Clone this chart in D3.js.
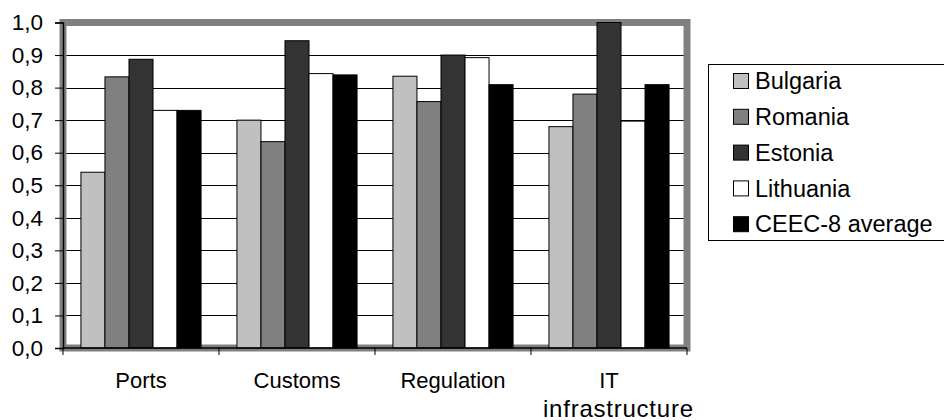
<!DOCTYPE html>
<html>
<head>
<meta charset="utf-8">
<script src="https://cdn.jsdelivr.net/npm/d3@7"></script>
<style>
  html, body { margin: 0; padding: 0; background: #fff; }
  svg { display: block; }
  text { font-family: "Liberation Sans", Arial, sans-serif; fill: #000; }
</style>
</head>
<body>
<svg id="chart" width="944" height="420"></svg>
<script>
// Trade facilitation indicators by area
const categories = ["Ports", "Customs", "Regulation", "IT infrastructure"];
const categoryLines = [["Ports"], ["Customs"], ["Regulation"], ["IT", "infrastructure"]];
const seriesNames = ["Bulgaria", "Romania", "Estonia", "Lithuania", "CEEC-8 average"];
const seriesColors = ["#c0c0c0", "#808080", "#333333", "#ffffff", "#000000"];

const bulgaria  = [0.54, 0.70, 0.835, 0.68];
const romania   = [0.833, 0.634, 0.757, 0.78];
const estonia   = [0.887, 0.944, 0.90, 1.0];
const lithuania = [0.73, 0.843, 0.892, 0.697];
const ceec8     = [0.73, 0.839, 0.809, 0.809];
const seriesValues = [bulgaria, romania, estonia, lithuania, ceec8];

const yTicks = [0, 0.1, 0.2, 0.3, 0.4, 0.5, 0.6, 0.7, 0.8, 0.9, 1.0];

const svg = d3.select("#chart");
const plot = { left: 63, right: 687, top: 22.5, bottom: 348 };

const x = d3.scaleBand().domain(categories).range([plot.left, plot.right])
  .paddingInner(0.23).paddingOuter(0.115);
const xs = d3.scaleBand().domain(seriesNames).range([0, x.bandwidth()]);
const y = d3.scaleLinear().domain([0, 1]).range([plot.bottom, plot.top]);
const fmt = v => d3.format(".1f")(v).replace(".", ",");

// horizontal gridlines
svg.append("g").selectAll("line").data(yTicks).join("line")
  .attr("x1", plot.left).attr("x2", plot.right)
  .attr("y1", d => Math.round(y(d)) + 0.5).attr("y2", d => Math.round(y(d)) + 0.5)
  .attr("stroke", "#000").attr("stroke-width", 1);

// plot area frame
svg.append("rect")
  .attr("x", plot.left).attr("y", plot.top)
  .attr("width", plot.right - plot.left).attr("height", plot.bottom - plot.top)
  .attr("fill", "none").attr("stroke", "#808080").attr("stroke-width", 7);

// bars
const groups = svg.append("g").selectAll("g").data(categories).join("g")
  .attr("transform", d => `translate(${x(d)},0)`);
groups.selectAll("rect")
  .data((c, i) => seriesNames.map((s, k) => ({ s, k, v: seriesValues[k][i] })))
  .join("rect")
  .attr("x", d => xs(d.s)).attr("width", xs.bandwidth())
  .attr("y", d => y(d.v)).attr("height", d => y(0) - y(d.v))
  .attr("fill", d => seriesColors[d.k])
  .attr("stroke", "#000").attr("stroke-width", 1);

// y axis
const yAxis = svg.append("g").attr("transform", `translate(${plot.left},0)`)
  .call(d3.axisLeft(y).tickValues(yTicks).tickFormat(fmt).tickSize(8).tickPadding(12));
yAxis.select(".domain").attr("stroke", "#000").attr("stroke-width", 1.5);
yAxis.selectAll("text").style("font-size", "22.5px")
  .style("font-family", "'Liberation Sans', Arial, sans-serif").attr("fill", "#000");

// x axis (ticks on category boundaries)
const bounds = d3.range(categories.length + 1).map(i => plot.left + i * x.step());
const xAxis = svg.append("g");
xAxis.append("line").attr("x1", plot.left).attr("x2", plot.right)
  .attr("y1", plot.bottom).attr("y2", plot.bottom)
  .attr("stroke", "#000").attr("stroke-width", 1.5);
xAxis.selectAll("line.tick").data(bounds).join("line").attr("class", "tick")
  .attr("x1", d => d).attr("x2", d => d)
  .attr("y1", plot.bottom).attr("y2", plot.bottom + 7)
  .attr("stroke", "#000").attr("stroke-width", 1);
xAxis.selectAll("text.cat").data(categories).join("text").attr("class", "cat")
  .attr("x", d => x(d) + x.bandwidth() / 2)
  .attr("y", 388)
  .attr("text-anchor", "middle")
  .style("font-size", "22px")
  .each(function(d, i) {
    d3.select(this).selectAll("tspan").data(categoryLines[i]).join("tspan")
      .attr("x", (t, j) => x(d) + x.bandwidth() / 2 + (j === 0 ? 0 : 9))
      .attr("dy", (t, j) => j === 0 ? 0 : 28.5)
      .style("font-size", (t, j) => j === 0 ? null : "24px")
      .attr("textLength", (t, j) => j === 0 ? null : 150)
      .attr("lengthAdjust", "spacing")
      .text(t => t);
  });

// legend
const legend = svg.append("g");
legend.append("rect").attr("x", 708.5).attr("y", 64.5).attr("width", 260).attr("height", 176)
  .attr("fill", "#fff").attr("stroke", "#000").attr("stroke-width", 1);
const item = legend.selectAll("g.item").data(seriesNames).join("g").attr("class", "item")
  .attr("transform", (d, i) => `translate(733,${81 + i * 35.8})`);
item.append("rect").attr("x", 0.5).attr("y", -7.5).attr("width", 15).attr("height", 15)
  .attr("fill", (d, i) => seriesColors[i]).attr("stroke", "#000").attr("stroke-width", 1);
item.append("text").attr("x", 22).attr("y", 0).attr("dy", "0.35em")
  .style("font-size", "23.5px").text(d => d);
</script>
</body>
</html>
